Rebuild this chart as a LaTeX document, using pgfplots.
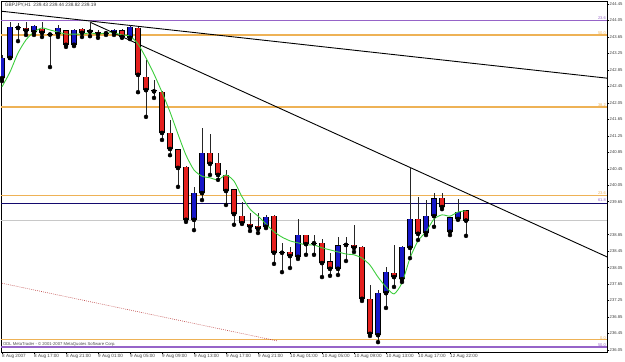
\documentclass[border=0pt]{standalone}
\usepackage{pgfplots}
\pgfplotsset{compat=1.18}
\usepackage{pgfplotstable}
\usepackage{fontspec}
\setmainfont{Liberation Sans}
\definecolor{cred}{RGB}{228,32,30}
\definecolor{cblue}{RGB}{22,22,200}
\definecolor{magreen}{RGB}{60,205,60}
\definecolor{fibor}{RGB}{238,178,86}
\definecolor{fibpu}{RGB}{150,100,200}
\definecolor{navyl}{RGB}{20,10,110}
\definecolor{bidgray}{RGB}{200,200,200}
\definecolor{dotred}{RGB}{190,70,70}

\pgfplotstableread{
i O H L C
0 242.65 243.21 242.58 243.14
1 243.14 244.01 243.14 243.89
4 243.77 243.94 243.70 243.92
7 243.72 243.94 243.65 243.87
9 243.46 243.84 243.43 243.82
14 243.75 243.84 243.70 243.82
16 243.63 243.94 243.60 243.89
24 239.21 240.01 238.96 239.86
25 239.86 241.44 239.69 240.83
33 239.04 239.33 239.01 239.28
37 238.31 239.23 238.26 238.84
42 238.02 238.79 237.87 238.58
47 236.41 237.51 236.24 237.43
48 237.43 238.07 237.07 237.94
50 237.77 238.58 237.70 238.55
51 238.53 240.49 238.28 239.23
53 238.89 239.69 238.84 239.30
54 239.30 239.86 239.04 239.72
56 238.92 239.26 238.84 239.26
57 239.23 239.72 239.21 239.40
}\bull

\pgfplotstableread{
i O H L C
2 243.89 243.99 243.55 243.87
3 243.87 244.01 243.70 243.80
5 243.84 244.01 243.65 243.75
6 243.72 243.75 242.92 243.71
8 243.80 243.82 243.41 243.46
10 243.84 243.87 243.65 243.75
11 243.80 244.01 243.67 243.78
12 243.77 243.82 243.63 243.72
13 243.75 243.80 243.70 243.74
15 243.80 243.84 243.63 243.65
17 243.87 243.89 242.31 242.73
18 242.68 243.09 241.71 242.36
19 242.36 242.61 242.17 242.33
20 242.31 242.34 241.15 241.32
21 241.32 241.63 240.78 240.93
22 240.91 240.93 240.01 240.47
23 240.49 240.52 239.16 239.21
26 240.83 241.29 240.30 240.57
27 240.59 240.83 240.18 240.30
28 240.30 240.42 239.57 239.91
29 239.94 239.96 239.09 239.35
30 239.30 239.64 239.11 239.13
31 239.11 239.38 238.94 239.04
32 239.06 239.38 238.89 238.99
34 239.30 239.33 238.14 238.41
35 238.43 238.65 237.94 238.41
36 238.43 238.55 238.04 238.33
38 238.84 238.84 238.36 238.62
39 238.65 238.84 238.36 238.64
40 238.65 238.75 237.82 238.16
41 238.19 238.41 237.85 238.02
43 238.62 238.79 238.21 238.60
44 238.60 239.09 238.43 238.53
45 238.55 238.58 237.24 237.29
46 237.29 237.63 236.39 236.44
49 237.92 238.60 237.58 237.82
52 239.23 239.77 238.72 238.87
55 239.74 239.86 239.47 239.52
58 239.43 239.44 238.82 239.19
}\bear

\pgfplotstableread{
i v
0 242.44
1 242.80
2 243.26
3 243.58
4 243.77
5 243.87
6 243.82
7 243.77
8 243.72
9 243.72
10 243.72
11 243.75
12 243.72
13 243.75
14 243.75
15 243.70
16 243.67
17 243.48
18 243.14
19 242.75
20 242.31
21 241.83
22 241.29
23 240.78
24 240.42
25 240.27
26 240.23
27 240.18
28 240.30
29 240.15
30 239.77
31 239.47
32 239.30
33 239.11
34 238.92
35 238.79
36 238.70
37 238.65
38 238.60
39 238.60
40 238.53
41 238.48
42 238.43
43 238.38
44 238.36
45 238.28
46 238.11
47 237.82
48 237.58
49 237.41
50 237.68
51 238.28
52 238.70
53 238.92
54 239.23
55 239.33
56 239.30
57 239.40
58 239.43
}\ma

\begin{document}
\begin{tikzpicture}[x=1pt,y=1pt]
\useasboundingbox (-1,-10) rectangle (624,352);
\begin{axis}[
  at={(0pt,0pt)}, anchor=south west,
  width=606pt, height=351pt, scale only axis,
  xmin=-0.125, xmax=75.625, ymin=236.0, ymax=244.524,
  axis line style={black, line width=0.7pt},
  tick align=outside, major tick length=2.2pt,
  tick style={black, line width=0.5pt},
  ytick pos=right, yticklabel pos=right,
  ytick={236.05,236.45,236.85,237.25,237.65,238.05,238.45,238.85,239.65,240.05,240.45,240.85,241.25,241.65,242.05,242.45,242.85,243.25,243.65,244.05,244.45},
  yticklabels={236.05,236.45,236.85,237.25,237.65,238.05,238.45,238.85,239.65,240.05,240.45,240.85,241.25,241.65,242.05,242.45,242.85,243.25,243.65,244.05,244.45},
  yticklabel style={font=\fontsize{4.2}{5}\selectfont, anchor=west, inner sep=0.3pt, xshift=0pt, text=black!75},
  xtick pos=bottom,
  xtick={0,4,8,12,16,20,24,28,32,36,40,44,48,52,56},
  xticklabels={8 Aug 2007,8 Aug 17:00,8 Aug 21:00,9 Aug 01:00,9 Aug 05:00,9 Aug 09:00,9 Aug 13:00,9 Aug 17:00,9 Aug 21:00,10 Aug 01:00,10 Aug 05:00,10 Aug 09:00,10 Aug 13:00,10 Aug 17:00,12 Aug 22:00},
  xticklabel style={font=\fontsize{4.6}{5}\selectfont, anchor=north west, inner sep=0.5pt, xshift=-0.5pt, yshift=0.5pt, text=black!75},
  clip=true,
]
% horizontal levels
\addplot[bidgray, line width=1.6pt] coordinates {(-0.125,239.19) (75.625,239.19)};
\addplot[fibpu, line width=1.5pt] coordinates {(-0.125,244.05) (75.625,244.05)};
\addplot[fibor, line width=1.3pt] coordinates {(-0.125,243.70) (75.625,243.70)};
\addplot[fibor, line width=1.3pt] coordinates {(-0.125,241.95) (75.625,241.95)};
\addplot[fibor, line width=1.3pt] coordinates {(-0.125,239.80) (75.625,239.80)};
\addplot[navyl, line width=0.8pt] coordinates {(-0.125,239.62) (75.625,239.62)};
\addplot[fibor, line width=1.3pt] coordinates {(-0.125,236.30) (75.625,236.30)};
\addplot[fibpu, line width=1.5pt] coordinates {(-0.125,236.12) (75.625,236.12)};
% dotted line
\addplot[dotred, line width=0.6pt, dash pattern=on 0.8pt off 1.2pt] coordinates {(-0.25,237.68) (34.4,236.27)};
% trend lines
\addplot[black, line width=0.9pt] coordinates {(-0.25,244.28) (75.625,242.65)};
\addplot[black, line width=0.9pt] coordinates {(11,244.01) (75.625,238.31)};
% wicks
\addplot[only marks, mark=none, error bars/.cd, y dir=plus, y explicit, error mark=none, error bar style={black!85, line width=0.8pt}]
  table[x=i, y=L, y error plus expr=\thisrow{H}-\thisrow{L}] {\bull};
\addplot[only marks, mark=none, error bars/.cd, y dir=plus, y explicit, error mark=none, error bar style={black!85, line width=0.8pt}]
  table[x=i, y=L, y error plus expr=\thisrow{H}-\thisrow{L}] {\bear};
% bodies outline
\addplot[only marks, mark=none, error bars/.cd, y dir=plus, y explicit, error mark=-, error mark options={black, line width=0.7pt, mark size=2.75pt, rotate=90}, error bar style={black, line width=5.5pt}]
  table[x=i, y=O, y error plus expr=\thisrow{C}-\thisrow{O}] {\bull};
\addplot[only marks, mark=none, error bars/.cd, y dir=plus, y explicit, error mark=-, error mark options={black, line width=0.7pt, mark size=2.75pt, rotate=90}, error bar style={black, line width=5.5pt}]
  table[x=i, y=C, y error plus expr=\thisrow{O}-\thisrow{C}] {\bear};
% bodies fill
\addplot[only marks, mark=none, error bars/.cd, y dir=plus, y explicit, error mark=none, error bar style={cblue, line width=3.9pt}]
  table[x=i, y=O, y error plus expr=\thisrow{C}-\thisrow{O}] {\bull};
\addplot[only marks, mark=none, error bars/.cd, y dir=plus, y explicit, error mark=none, error bar style={cred, line width=3.9pt}]
  table[x=i, y=C, y error plus expr=\thisrow{O}-\thisrow{C}] {\bear};
% moving average
\addplot[magreen, line width=0.9pt, smooth, tension=0.4, mark=none] table[x=i, y=v] {\ma};
% fib labels
\begin{scope}[font=\fontsize{4}{4.5}\selectfont]
\node[anchor=south east, inner sep=0.4pt, text=fibpu] at (axis cs:75.55,244.05) {23.6};
\node[anchor=south east, inner sep=0.4pt, text=fibor] at (axis cs:75.55,243.70) {50.0};
\node[anchor=south east, inner sep=0.4pt, text=fibor] at (axis cs:75.55,241.95) {38.2};
\node[anchor=south east, inner sep=0.4pt, text=fibor] at (axis cs:75.55,239.80) {23.6};
\node[anchor=south east, inner sep=0.4pt, text=fibpu] at (axis cs:75.55,239.63) {61.8};
\node[anchor=south east, inner sep=0.4pt, text=fibor] at (axis cs:75.55,236.30) {0.0};
\node[anchor=south east, inner sep=0.4pt, text=fibpu] at (axis cs:75.55,236.12) {50.0};
\end{scope}
\node[anchor=north west, inner sep=0pt, font=\fontsize{4.2}{4.5}\selectfont, text=black!70] at (axis cs:0.1,236.23) {ODL MetaTrader - \textcopyright{} 2001-2007 MetaQuotes Software Corp.};
\node[anchor=north west, inner sep=0pt, font=\fontsize{4.8}{5}\selectfont, text=black!80] at (axis cs:0.35,244.47) {GBPJPY,H1 \ 239.43 239.44 238.82 239.19};
\node[fill=black, text=white, anchor=west, inner sep=0.5pt, minimum height=8pt, font=\fontsize{4.2}{5}\selectfont] at (axis cs:75.64,239.19) {239.19};
\end{axis}
\end{tikzpicture}
\end{document}
